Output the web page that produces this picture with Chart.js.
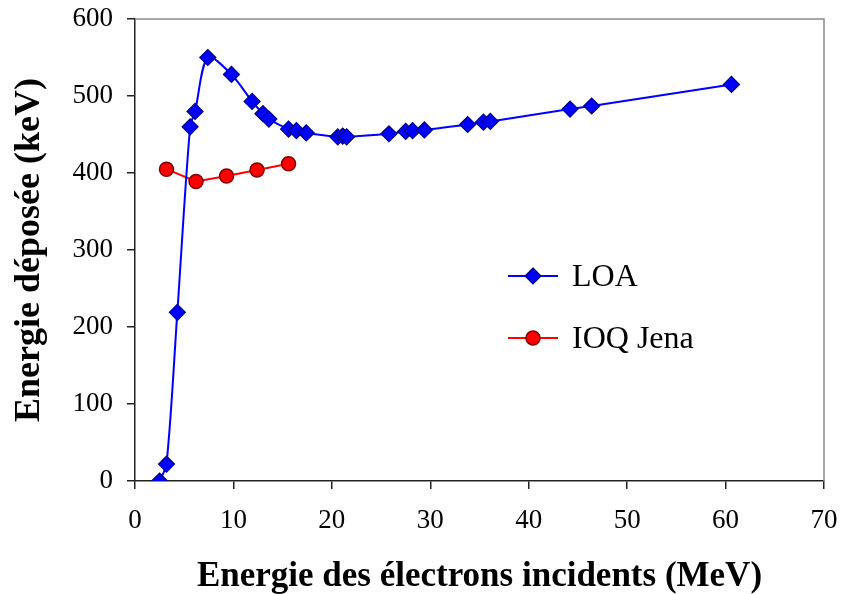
<!DOCTYPE html>
<html>
<head>
<meta charset="utf-8">
<script src="https://cdn.jsdelivr.net/npm/chart.js@4/dist/chart.umd.min.js"></script>
<style>
  html, body { margin: 0; padding: 0; background: #fff; }
  #wrap { width: 841px; height: 594px; }
</style>
</head>
<body>
<div id="wrap"><canvas id="myChart" width="841" height="594"></canvas></div>
<script>
// LOA measurements
const loaEnergy = [2.5, 3.2, 4.3, 5.6, 6.1, 7.4, 9.8, 11.9, 13.0, 13.6, 15.6, 16.4, 17.4,
  20.6, 21.1, 21.5, 25.8, 27.5, 28.2, 29.4, 33.8, 35.4, 36.1, 44.2, 46.4, 60.6];
const loaDeposit = [0, 22, 219, 460, 480, 550, 528, 493, 477, 470, 457, 455, 452,
  447, 448, 447, 451, 454, 455, 456, 463, 466, 467, 483, 487, 515];

// IOQ Jena measurements
const jenaEnergy = [3.2, 6.2, 9.3, 12.4, 15.6];
const jenaDeposit = [405, 389, 396, 404, 412];

const seriesNames = ['LOA', 'IOQ Jena'];
const xTitle = 'Energie des électrons incidents (MeV)';
const yTitle = 'Energie déposée (keV)';

const serif = '"Liberation Serif", "Times New Roman", serif';

function toPoints(xs, ys) {
  return xs.map((x, i) => ({ x: x, y: ys[i] }));
}

// grey top/right frame like the original plot box
const frameLines = {
  id: 'frameLines',
  beforeDatasetsDraw(chart) {
    const a = chart.chartArea;
    const ctx = chart.ctx;
    ctx.save();
    ctx.strokeStyle = '#8a8a8a';
    ctx.lineWidth = 1.5;
    ctx.beginPath();
    ctx.moveTo(a.left, a.top);
    ctx.lineTo(a.right, a.top);
    ctx.lineTo(a.right, a.bottom);
    ctx.stroke();
    ctx.restore();
  }
};

// legend drawn inside the plot, line + marker + label
const legendRows = [276, 338];
const insideLegend = {
  id: 'insideLegend',
  afterDraw(chart) {
    const ctx = chart.ctx;
    chart.data.datasets.forEach((ds, i) => {
      const y = legendRows[i];
      ctx.save();
      ctx.strokeStyle = ds.borderColor;
      ctx.lineWidth = ds.borderWidth;
      ctx.beginPath();
      ctx.moveTo(508, y);
      ctx.lineTo(558, y);
      ctx.stroke();

      const r = ds.pointRadius;
      ctx.fillStyle = ds.pointBackgroundColor;
      ctx.strokeStyle = ds.pointBorderColor;
      ctx.lineWidth = ds.pointBorderWidth;
      ctx.beginPath();
      if (ds.pointStyle === 'circle') {
        ctx.arc(533, y, r, 0, Math.PI * 2);
      } else {
        ctx.moveTo(533, y - r);
        ctx.lineTo(533 + r, y);
        ctx.lineTo(533, y + r);
        ctx.lineTo(533 - r, y);
        ctx.closePath();
      }
      ctx.fill();
      ctx.stroke();

      ctx.fillStyle = '#000';
      ctx.font = '32px ' + serif;
      ctx.textBaseline = 'alphabetic';
      ctx.textAlign = 'left';
      ctx.fillText(ds.label, 572, y + 10);
      ctx.restore();
    });
  }
};

const config = {
  type: 'line',
  data: {
    datasets: [
      {
        label: seriesNames[0],
        data: toPoints(loaEnergy, loaDeposit),
        borderColor: '#0000ff',
        borderWidth: 2,
        tension: 0.3,
        pointStyle: 'rectRot',
        pointRadius: 8,
        pointBackgroundColor: '#0000ff',
        pointBorderColor: '#000080',
        pointBorderWidth: 1.2
      },
      {
        label: seriesNames[1],
        data: toPoints(jenaEnergy, jenaDeposit),
        borderColor: '#ff0000',
        borderWidth: 2,
        tension: 0,
        pointStyle: 'circle',
        pointRadius: 7,
        pointBackgroundColor: '#ff0000',
        pointBorderColor: '#800000',
        pointBorderWidth: 1.5
      }
    ]
  },
  options: {
    responsive: false,
    animation: false,
    layout: { padding: { top: 19, right: 17, left: 0, bottom: 0 } },
    plugins: {
      legend: { display: false },
      tooltip: { enabled: false }
    },
    scales: {
      x: {
        type: 'linear',
        min: 0,
        max: 70,
        ticks: {
          stepSize: 10,
          color: '#000',
          padding: 16,
          maxRotation: 0,
          font: { family: serif, size: 27 }
        },
        grid: { drawOnChartArea: false, tickLength: 8, color: '#222', lineWidth: 1.5 },
        border: { color: '#222', width: 1.5 },
        title: {
          display: true,
          text: xTitle,
          color: '#000',
          font: { family: serif, size: 35, weight: 'bold', lineHeight: 1 },
          padding: { top: 0, bottom: 0 }
        },
        afterFit(scale) {
          scale.height = 113;
          scale.paddingLeft = 0;
          scale.paddingRight = 0;
        }
      },
      y: {
        type: 'linear',
        min: 0,
        max: 600,
        ticks: {
          stepSize: 100,
          color: '#000',
          padding: 14,
          font: { family: serif, size: 27 }
        },
        grid: { drawOnChartArea: false, tickLength: 8, color: '#222', lineWidth: 1.5 },
        border: { color: '#222', width: 1.5 },
        title: {
          display: true,
          text: yTitle,
          color: '#000',
          font: { family: serif, size: 36, weight: 'bold', lineHeight: 1 },
          padding: { top: 12, bottom: 0 }
        },
        afterFit(scale) {
          scale.width = 135;
          scale.paddingTop = 0;
          scale.paddingBottom = 0;
        }
      }
    }
  },
  plugins: [frameLines, insideLegend]
};

const myChart = new Chart(document.getElementById('myChart'), config);
</script>
</body>
</html>
